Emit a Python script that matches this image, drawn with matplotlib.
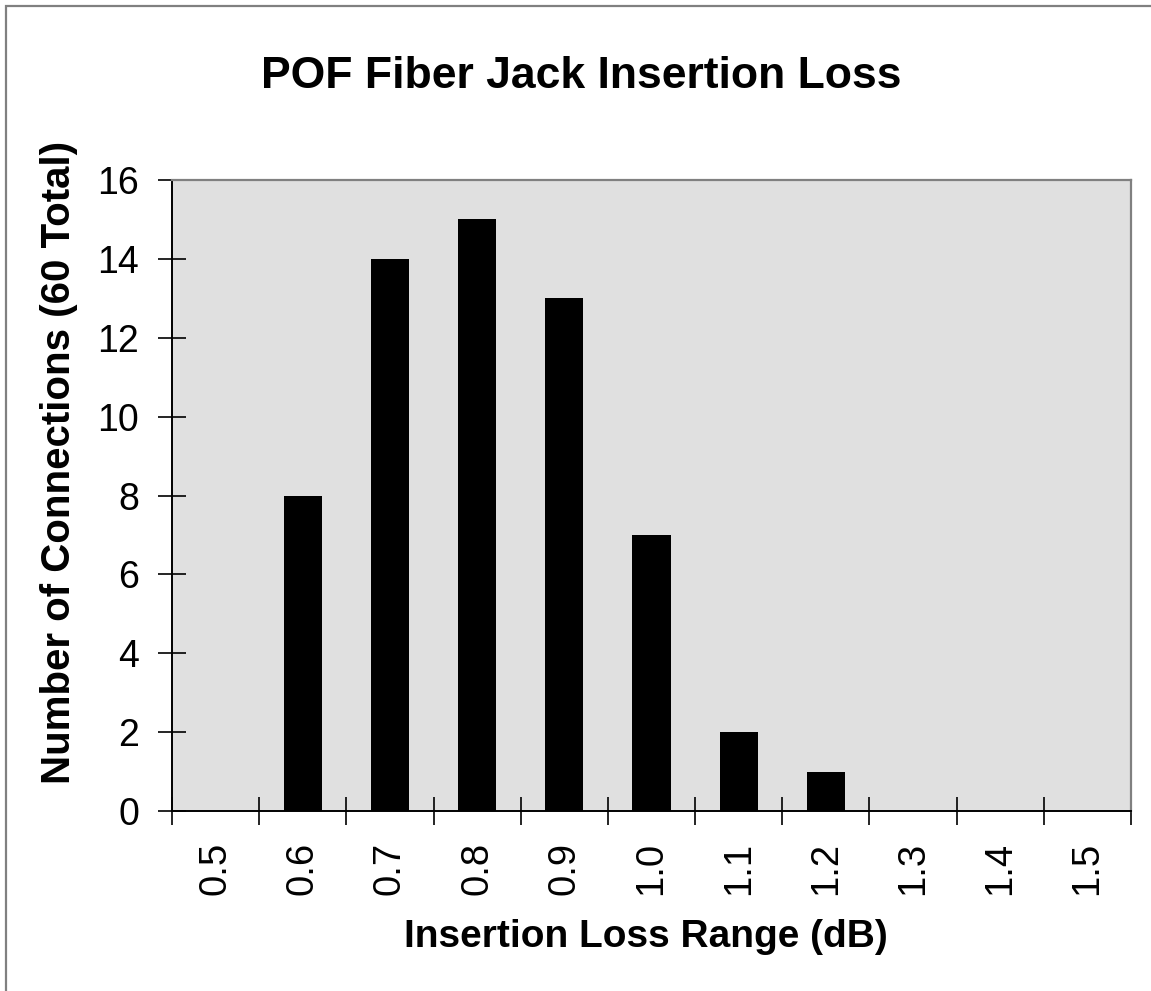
import matplotlib
matplotlib.use("Agg")
import matplotlib.pyplot as plt
import numpy as np
from matplotlib.patches import Rectangle

plt.rcParams['font.family'] = ['Liberation Sans', 'DejaVu Sans']

# data
loss_ranges = ['0.5', '0.6', '0.7', '0.8', '0.9', '1.0', '1.1', '1.2', '1.3', '1.4', '1.5']
connections = [0, 8, 14, 15, 13, 7, 2, 1, 0, 0, 0]
y_ticks = [0, 2, 4, 6, 8, 10, 12, 14, 16]

W, H = 1151, 991
fig = plt.figure(figsize=(W / 100, H / 100), dpi=100)

# outer chart border (only left / top visible in the original)
fig.patches.append(Rectangle((6 / W, -0.01), 1.1, 1 - 6 / H + 0.01,
                             transform=fig.transFigure, fill=False,
                             edgecolor='#808080', linewidth=1.6))

ax = fig.add_axes([172 / W, 1 - 811 / H, (1131 - 172) / W, (811 - 180) / H])
ax.set_facecolor('#e0e0e0')

x = np.arange(len(loss_ranges))
ax.bar(x, connections, width=0.44, color='black', zorder=3)

ax.set_xlim(-0.5, len(loss_ranges) - 0.5)
ax.set_ylim(0, 16)

ax.set_yticks(y_ticks)
ax.tick_params(axis='y', direction='inout', length=19.5, width=1.2,
               labelsize=27, pad=14, color='black')

ax.set_xticks(x)
ax.set_xticklabels(loss_ranges, rotation=90)
ax.tick_params(axis='x', which='major', length=0, labelsize=27.5, pad=22)
ax.set_xticks(np.arange(-0.5, len(loss_ranges)), minor=True)
ax.tick_params(axis='x', which='minor', direction='inout', length=19.5,
               width=1.2, color='black')

for s in ['top', 'right']:
    ax.spines[s].set_color('#808080')
    ax.spines[s].set_linewidth(1.6)
for s in ['left', 'bottom']:
    ax.spines[s].set_color('black')
    ax.spines[s].set_linewidth(1.4)

fig.text(581 / W, 1 - 88 / H, 'POF Fiber Jack Insertion Loss',
         ha='center', va='baseline', fontsize=32, fontweight='bold')
fig.text(59 / W, 1 - 462 / H, 'Number of Connections (60 Total)',
         ha='center', va='center', rotation=90, fontsize=29, fontweight='bold')
fig.text(646 / W, 1 - 947 / H, 'Insertion Loss Range (dB)',
         ha='center', va='baseline', fontsize=28, fontweight='bold')

fig.savefig('out.png', dpi=100)
